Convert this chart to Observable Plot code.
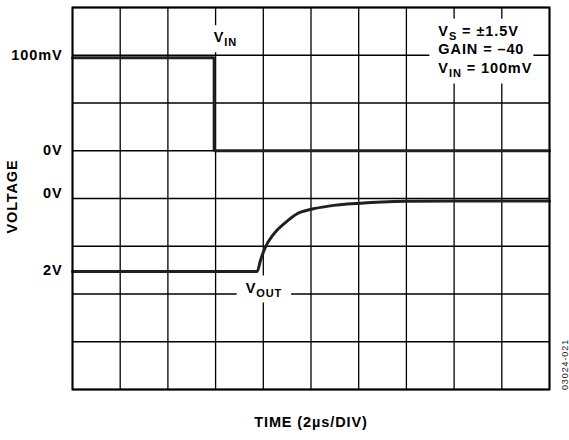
<!DOCTYPE html>
<html><head><meta charset="utf-8">
<script src="https://cdn.jsdelivr.net/npm/d3@7"></script>
<script src="https://cdn.jsdelivr.net/npm/@observablehq/plot@0.6"></script>
<style>
html,body{margin:0;padding:0;background:#fff;}
svg{display:block;}
</style></head><body><div id="chart"></div>
<script>
// grid divisions (10 time divisions x 8 voltage divisions)
const timeDivs = [0,1,2,3,4,5,6,7,8,9,10];
const voltDivs = [0,1,2,3,4,5,6,7,8];

// V_IN trace (in divisions)
const vinTime  = [0, 2.97, 2.97, 10];
const vinLevel = [6.95, 6.95, 5.0, 5.0];

// V_OUT trace (in divisions)
const voutTime  = [0, 3.87, 3.94, 4.03, 4.22, 4.47, 4.71, 5.03, 5.37, 6.04, 7.02, 8.0, 10];
const voutLevel = [2.47, 2.47, 2.70, 2.95, 3.26, 3.50, 3.68, 3.78, 3.84, 3.90, 3.94, 3.95, 3.95];

// channel reference labels on the left
const yTickPos    = [6.99, 5.0, 4.1, 2.49];
const yTickLabels = ["100mV", "0V", "0V", "2V"];

// annotations
const annotText = ["V_{IN}", "V_{OUT}", "V_{S} = ±1.5V", "GAIN = –40", "V_{IN} = 100mV"];
const annotX    = [2.96, 3.63, 7.67, 7.67, 7.67];
const annotY    = [7.27, 2.03, 7.41, 7.02, 6.62];

const xLabel = "TIME (2µs/DIV)";
const yLabel = "VOLTAGE";
const figureId = "03024-021";

const ink = "#000";
const trace = "#231f20";

const vin = vinTime.map((t, i) => ({t, v: vinLevel[i]}));
const vout = voutTime.map((t, i) => ({t, v: voutLevel[i]}));
const ticks = yTickPos.map((p, i) => ({p, label: yTickLabels[i]}));
const annots = annotText.map((s, i) => ({s, x: annotX[i], y: annotY[i]}));

const chart = Plot.plot({
  width: 569,
  height: 440,
  marginLeft: 72,
  marginRight: 20,
  marginTop: 7,
  marginBottom: 51,
  x: {domain: [0, 10], axis: null},
  y: {domain: [0, 8], axis: null},
  style: {fontFamily: "'Liberation Sans', Arial, sans-serif", fontSize: "14.5px", fontWeight: "bold", letterSpacing: "0.9px", background: "#fff"},
  marks: [
    Plot.ruleX(timeDivs, {x: d => d, stroke: ink, strokeWidth: 1.3, strokeOpacity: 1}),
    Plot.ruleY(voltDivs, {y: d => d, stroke: ink, strokeWidth: 1.3, strokeOpacity: 1}),
    Plot.line(vin, {x: "t", y: "v", stroke: trace, strokeWidth: 3, strokeLinejoin: "miter"}),
    Plot.line(vout, {x: "t", y: "v", stroke: trace, strokeWidth: 3, curve: "monotone-x"}),
    Plot.text(annots, {x: "x", y: "y", text: "s", textAnchor: "start", lineAnchor: "bottom",
      fill: "#000", stroke: "white", strokeWidth: 8, strokeLinejoin: "round", paintOrder: "stroke"}),
    Plot.frame({stroke: ink, strokeWidth: 2}),
    Plot.text(ticks, {y: "p", text: "label", frameAnchor: "left", textAnchor: "end", lineAnchor: "middle", dx: -10, fill: "#000"}),
    Plot.text([yLabel], {text: d => d, frameAnchor: "left", textAnchor: "middle", lineAnchor: "middle", dx: -60, dy: -2, rotate: -90, fill: "#000"}),
    Plot.text([xLabel], {text: d => d, frameAnchor: "bottom", textAnchor: "middle", lineAnchor: "middle", dy: 33, fill: "#000"}),
    Plot.text([figureId], {text: d => d, frameAnchor: "bottom-right", textAnchor: "middle", lineAnchor: "middle", dx: 16, dy: -25, rotate: -90,
      fontSize: 9, fontWeight: "normal", fill: "#222"})
  ]
});

// convert "_{...}" markup into subscript tspans; mark annotation texts
const annSet = new Set(annotText);
d3.select(chart).selectAll("text").each(function() {
  const s = this.textContent;
  if (annSet.has(s)) this.setAttribute("data-annot", "1");
  if (!s.includes("_{")) return;
  const parts = s.split(/(_\{[^}]*\})/).filter(p => p);
  this.textContent = "";
  let shifted = false;
  for (const p of parts) {
    const t = d3.select(this).append("tspan");
    if (p.startsWith("_{")) {
      t.text(p.slice(2, -1)).attr("font-size", 11).attr("dy", 4);
      shifted = true;
    } else {
      t.text(p);
      if (shifted) { t.attr("dy", -4); shifted = false; }
    }
  }
});

document.getElementById("chart").appendChild(chart);

// white backgrounds behind annotation texts (sized from their rendered boxes),
// all placed beneath every annotation text
const rects = [];
d3.select(chart).selectAll("text[data-annot]").each(function() {
  const b = this.getBBox();
  const r = document.createElementNS("http://www.w3.org/2000/svg", "rect");
  r.setAttribute("x", b.x - 5);
  r.setAttribute("y", b.y);
  r.setAttribute("width", b.width + 10);
  r.setAttribute("height", b.height);
  r.setAttribute("fill", "#fff");
  const tr = this.getAttribute("transform");
  if (tr) r.setAttribute("transform", tr);
  rects.push({r, parent: this.parentNode});
});
for (const {r, parent} of rects) parent.insertBefore(r, parent.firstChild);
</script>
</body></html>
